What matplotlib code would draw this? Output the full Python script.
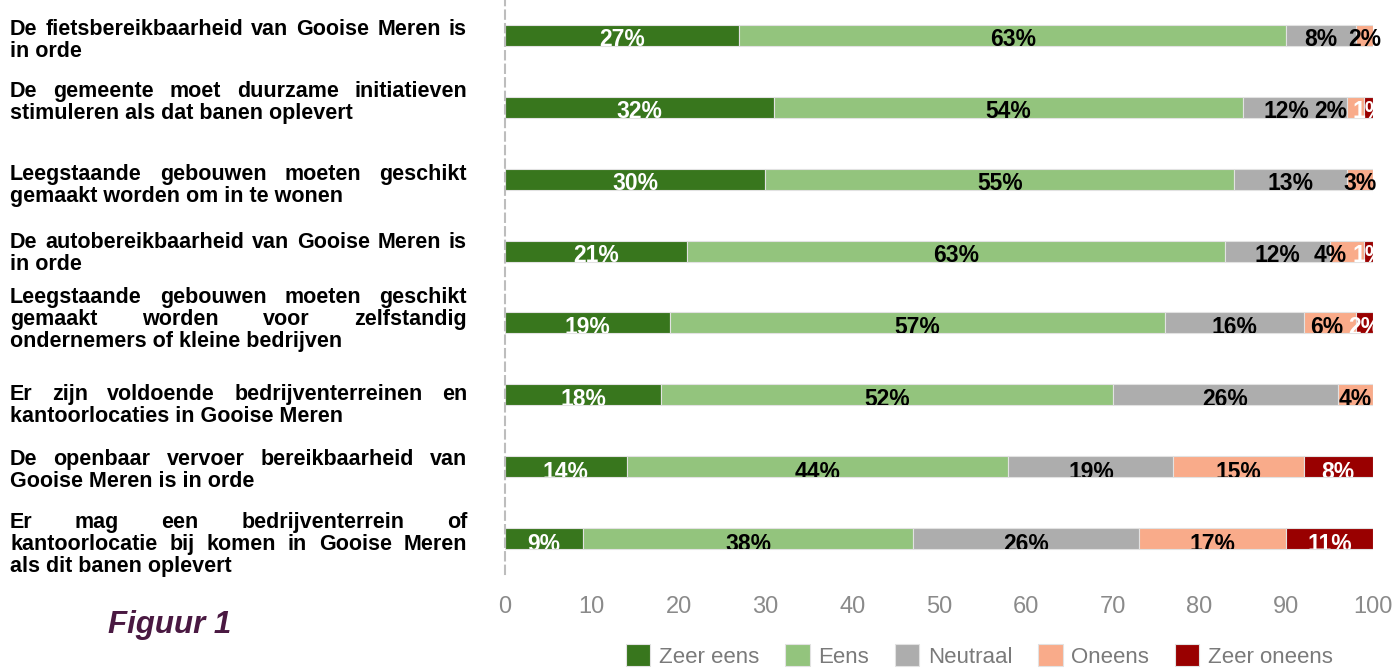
import matplotlib
matplotlib.use("Agg")
import matplotlib.pyplot as plt
from matplotlib.patches import Rectangle, Patch
import numpy as np

plt.rcParams.update({
    "font.family": ["Liberation Sans", "DejaVu Sans"],
})

# ── data ────────────────────────────────────────────────
STATEMENTS = [
    ["De fietsbereikbaarheid van Gooise Meren is", "in orde"],
    ["De gemeente moet duurzame initiatieven", "stimuleren als dat banen oplevert"],
    ["Leegstaande gebouwen moeten geschikt", "gemaakt worden om in te wonen"],
    ["De autobereikbaarheid van Gooise Meren is", "in orde"],
    ["Leegstaande gebouwen moeten geschikt", "gemaakt worden voor zelfstandig",
     "ondernemers of kleine bedrijven"],
    ["Er zijn voldoende bedrijventerreinen en", "kantoorlocaties in Gooise Meren"],
    ["De openbaar vervoer bereikbaarheid van", "Gooise Meren is in orde"],
    ["Er mag een bedrijventerrein of", "kantoorlocatie bij komen in Gooise Meren",
     "als dit banen oplevert"],
]

CATEGORIES = ["Zeer eens", "Eens", "Neutraal", "Oneens", "Zeer oneens"]

# segment widths as drawn
zeer_eens   = [27, 31, 30, 21, 19, 18, 14, 9]
eens        = [63, 54, 54, 62, 57, 52, 44, 38]
neutraal    = [8, 12, 13, 12, 16, 26, 19, 26]
oneens      = [2, 2, 3, 4, 6, 4, 15, 17]
zeer_oneens = [0, 1, 0, 1, 2, 0, 8, 10]

# percentages as printed on the bars
lbl_zeer_eens   = [27, 32, 30, 21, 19, 18, 14, 9]
lbl_eens        = [63, 54, 55, 63, 57, 52, 44, 38]
lbl_neutraal    = [8, 12, 13, 12, 16, 26, 19, 26]
lbl_oneens      = [2, 2, 3, 4, 6, 4, 15, 17]
lbl_zeer_oneens = [0, 1, 0, 1, 2, 0, 8, 11]

XTICKS = [0, 10, 20, 30, 40, 50, 60, 70, 80, 90, 100]

COLORS = ["#38761d", "#93c47d", "#adadad", "#f9ab8a", "#990000"]
TEXT_COLORS = ["white", "black", "black", "black", "white"]

series = [zeer_eens, eens, neutraal, oneens, zeer_oneens]
labels = [lbl_zeer_eens, lbl_eens, lbl_neutraal, lbl_oneens, lbl_zeer_oneens]

# ── figure ──────────────────────────────────────────────
W, H = 1393, 670
fig = plt.figure(figsize=(W / 100, H / 100), dpi=100)
ax = fig.add_axes([505 / W, 96 / H, 868 / W, 574 / H])

n = len(STATEMENTS)
y = np.arange(n)
bar_h = 0.29
left = np.zeros(n)
row_texts = [[] for _ in range(n)]

for vals, lbls, color, tcolor, name in zip(series, labels, COLORS, TEXT_COLORS, CATEGORIES):
    vals = np.array(vals, dtype=float)
    ax.barh(y, vals, left=left, height=bar_h, color=color,
            edgecolor="#e2e2e2", linewidth=0.8, label=name)
    for i in range(n):
        if lbls[i] == 0:
            continue
        xc = left[i] + vals[i] / 2
        yt = i + bar_h / 2 + 0.006 * i - 0.01
        t = ax.text(xc, yt, f"{lbls[i]}%", ha="center", va="baseline",
                    fontsize=16.5, fontweight="bold", color=tcolor, clip_on=True)
        t.set_clip_path(Rectangle((-5, i - bar_h / 2), 110, bar_h,
                                  transform=ax.transData))
        row_texts[i].append(t)
    left += vals

ax.set_xlim(0, 100)
ax.set_ylim(n - 0.5, -0.5)
ax.set_xticks(XTICKS)
ax.set_xticklabels([str(v) for v in XTICKS])
ax.set_yticks([])
ax.tick_params(axis="x", length=0, pad=16, labelsize=17, labelcolor="#8a8a8a")
for s in ["top", "right", "bottom"]:
    ax.spines[s].set_visible(False)
ax.spines["left"].set_color("#bdbdbd")
ax.spines["left"].set_linewidth(1.5)
ax.spines["left"].set_linestyle((0, (4, 2.5)))

renderer = fig.canvas.get_renderer()

# push crowded labels at the right end of a bar to the left
for texts in row_texts:
    for k in range(len(texts) - 2, -1, -1):
        a, b = texts[k], texts[k + 1]
        ra = a.get_window_extent(renderer)
        lb = b.get_window_extent(renderer)
        if ra.x1 > lb.x0 - 5:
            shift_px = ra.x1 - (lb.x0 - 5)
            xa, ya = a.get_position()
            px = ax.transData.transform((xa, ya))
            nx = ax.transData.inverted().transform((px[0] - shift_px, px[1]))[0]
            a.set_x(nx)

# ── justified statement labels ──────────────────────────
first_baselines = [35, 97, 180, 248, 303, 400, 465, 528]
line_gap = 22
x0, x1 = 10, 467
kw = dict(fontsize=15.5, fontweight="bold", color="black", va="baseline", ha="left")

for lines, yb in zip(STATEMENTS, first_baselines):
    for j, line in enumerate(lines):
        ypos = 1 - (yb + j * line_gap) / H
        last = j == len(lines) - 1
        if last:
            fig.text(x0 / W, ypos, line, **kw)
            continue
        words = line.split()
        texts = [fig.text(0, ypos, w_, **kw) for w_ in words]
        widths = [t.get_window_extent(renderer).width for t in texts]
        gap = (x1 - x0 - sum(widths)) / max(len(words) - 1, 1)
        xp = x0
        for t, wd in zip(texts, widths):
            t.set_x(xp / W)
            xp += wd + gap

fig.text(108 / W, 1 - 633 / H, "Figuur 1", fontsize=22.5, fontweight="bold",
         fontstyle="italic", color="#4a1942", ha="left", va="baseline")

# ── legend ──────────────────────────────────────────────
handles = [Patch(facecolor=c, edgecolor="#e2e2e2", linewidth=0.8) for c in COLORS]
fig.legend(handles, CATEGORIES, loc="center", bbox_to_anchor=(979.5 / W, 14 / H),
           ncol=5, frameon=False, fontsize=16, labelcolor="#7a7a7a",
           handlelength=1.1, handleheight=1.1, handletextpad=0.4,
           columnspacing=1.15, borderpad=0, borderaxespad=0)

fig.savefig("out.png", dpi=100, facecolor="white")
